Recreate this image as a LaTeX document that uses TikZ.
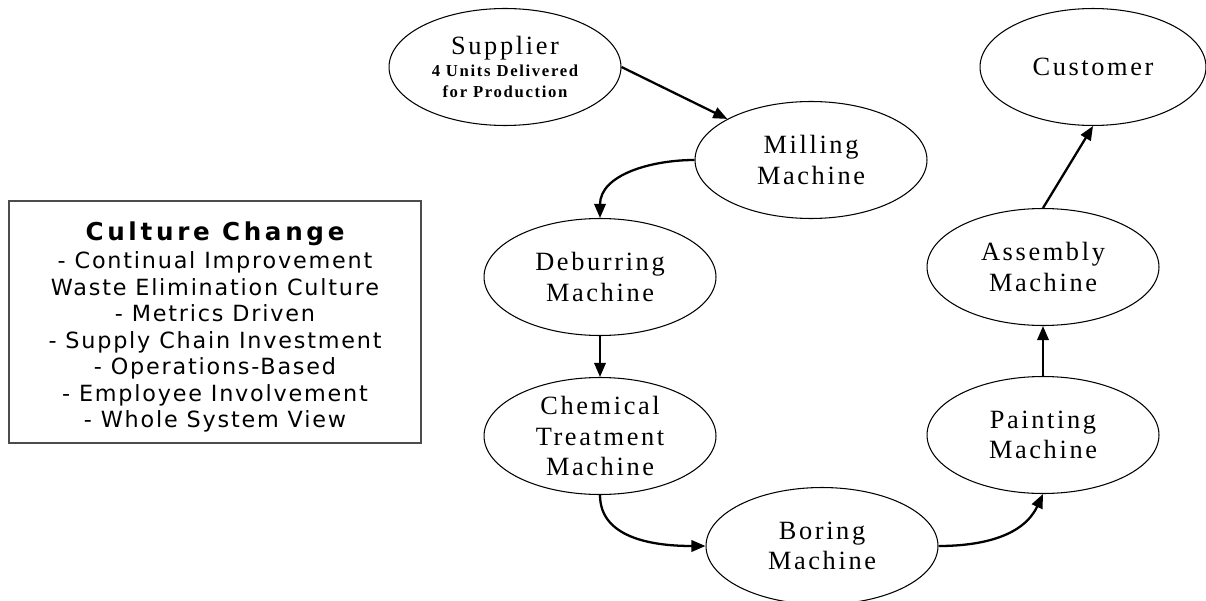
\documentclass[tikz,border=0pt]{standalone}
\usepackage{fontspec}
\usetikzlibrary{shapes.geometric,arrows.meta}
\newfontfamily\stationfont[LetterSpace=10]{Liberation Serif}
\newfontfamily\culturefont[LetterSpace=8]{DejaVu Sans}
\newfontfamily\culturetitle[LetterSpace=15]{DejaVu Sans Bold}

\begin{document}
\begin{tikzpicture}[x=0.02cm, y=-0.02cm]
    \tikzstyle{station} = [ellipse, draw=black, line width=0.6pt, minimum width=4.64cm, minimum height=2.34cm, inner sep=0pt, align=center, font=\stationfont\fontsize{15}{17.5}\selectfont]
    \tikzstyle{flow} = [line width=1.3pt, -{Triangle[length=8pt,width=6.5pt]}]
    \tikzstyle{note} = [draw=black!70, line width=0.8pt, minimum width=8.24cm, minimum height=4.84cm, inner sep=0pt, align=center, font=\culturefont\fontsize{12.7}{15.1}\selectfont]
    \useasboundingbox (0,0) rectangle (1206,601);

    \node[station] (sup) at (505,67) {Supplier\\[-5pt]{\bfseries\fontsize{9.5}{11.4}\selectfont 4 Units Delivered}\\[-6pt]{\bfseries\fontsize{9.5}{11.4}\selectfont for Production}};
    \node[station] (mill) at (811,160) {Milling\\Machine};
    \node[station] (debur) at (600,277) {Deburring\\Machine};
    \node[station] (chem) at (600,436) {Chemical\\Treatment\\Machine};
    \node[station] (bore) at (822,546) {Boring\\Machine};
    \node[station] (paint) at (1043,435) {Painting\\Machine};
    \node[station] (assy) at (1043,267) {Assembly\\Machine};
    \node[station, minimum width=4.52cm] (cust) at (1093,67) {Customer};
    \draw[flow] (sup.east) -- (mill);
    \draw[flow] (mill.west) to [out=180,in=90] (debur.north);
    \draw[flow] (debur) -- (chem);
    \draw[flow] (chem.south) to [out=-90,in=180] (bore.west);
    \draw[flow] (bore.east) to [out=0,in=-115] (paint.south);
    \draw[flow] (paint) -- (assy);
    \draw[flow] (assy.north) -- (cust.south);
    % side note on the left, the strut pushes the lines down a little
    \node[note] (culture) at (215,322) {{\rule{0pt}{16.3pt}\culturetitle\fontsize{14}{16}\selectfont Culture Change}\\[1pt]- Continual Improvement\\Waste Elimination Culture\\- Metrics Driven\\- Supply Chain Investment\\- Operations-Based\\- Employee Involvement\\- Whole System View};
\end{tikzpicture}
\end{document}
